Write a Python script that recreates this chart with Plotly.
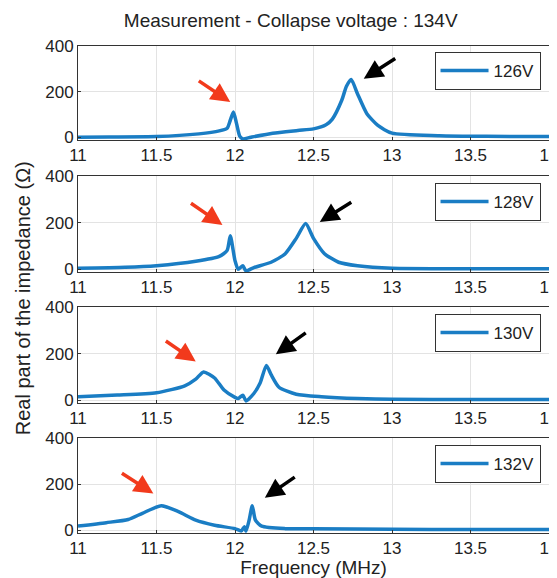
import plotly.graph_objects as go
from plotly.subplots import make_subplots

labels = ["126V", "128V", "130V", "132V"]

f1 = [11.0, 11.2, 11.5, 11.77, 11.9, 11.95, 11.97, 11.99, 12.01, 12.03, 12.05, 12.1, 12.24, 12.4, 12.5, 12.58, 12.62, 12.68, 12.71, 12.74, 12.78, 12.84, 12.91, 13.0, 13.3, 13.6, 14.0]
z1 = [0, 1, 3, 15, 28, 40, 75, 111, 60, 5, -7, 0, 18, 30, 37, 55, 80, 163, 225, 255, 192, 104, 52, 18, 7, 4, 3]

f2 = [11.0, 11.3, 11.5, 11.75, 11.9, 11.95, 11.97, 12.0, 12.02, 12.05, 12.07, 12.12, 12.23, 12.32, 12.39, 12.45, 12.5, 12.57, 12.66, 12.78, 13.0, 13.5, 14.0]
z2 = [4, 8, 15, 34, 55, 81, 144, 37, 0, 15, -7, 7, 30, 67, 133, 197, 133, 67, 30, 15, 4, 2, 2]

f3 = [11.0, 11.25, 11.5, 11.68, 11.75, 11.8, 11.87, 11.93, 12.0, 12.02, 12.05, 12.07, 12.12, 12.16, 12.2, 12.23, 12.28, 12.39, 12.55, 12.78, 13.0, 13.5, 14.0]
z3 = [15, 22, 32, 62, 91, 122, 96, 44, 12, 7, 22, -3, 29, 74, 150, 110, 56, 26, 15, 7, 4, 3, 3]

f4 = [11.0, 11.18, 11.32, 11.41, 11.53, 11.64, 11.75, 11.87, 12.0, 12.04, 12.06, 12.07, 12.09, 12.11, 12.13, 12.17, 12.32, 12.5, 13.0, 13.5, 14.0]
z4 = [18, 33, 47, 74, 107, 81, 44, 22, 7, -3, 15, -4, 44, 107, 44, 18, 7, 6, 4, 3, 3]

freqs = [f1, f2, f3, f4]
vals = [z1, z2, z3, z4]

# arrows: (head_x, head_y, tail_x, tail_y)
red_arrows = [(11.97, 155, 11.76, 253), (11.92, 191, 11.71, 289), (11.75, 167, 11.55, 260), (11.48, 160, 11.27, 253)]
black_arrows = [(12.82, 258, 13.03, 351), (12.54, 204, 12.75, 293), (12.26, 198, 12.46, 295), (12.19, 142, 12.39, 236)]

x_ticks = [11, 11.5, 12, 12.5, 13, 13.5, 14]
y_ticks = [0, 200, 400]

FONT = "Liberation Sans, Arial, sans-serif"
BLUE = "#1a7dc4"

# page body has an 8px offset; figure placed accordingly
OFF = 8
W, H = 557 - OFF, 578 - OFF
t_m = 46 - OFF
b_m = H - (533 - OFF)
ph = H - t_m - b_m
panels_px = [(46, 140), (176, 272), (307, 403), (438, 533)]
domains = [[1 - (b - 46) / ph, 1 - (t - 46) / ph] for t, b in panels_px]
legend_top_px = [52, 183, 314, 445]

fig = make_subplots(rows=4, cols=1)
for i in range(4):
    lname = "legend" if i == 0 else f"legend{i+1}"
    fig.add_trace(go.Scatter(x=freqs[i], y=vals[i], mode="lines", name=labels[i],
                             line=dict(color=BLUE, width=3.5, shape="spline", smoothing=0.6),
                             legend=lname), row=i + 1, col=1)
    yref = "y" if i == 0 else f"y{i+1}"
    xref = "x" if i == 0 else f"x{i+1}"
    for (hx, hy, tx, ty), col in [(red_arrows[i], "#f23a1c"), (black_arrows[i], "black")]:
        fig.add_annotation(x=hx, y=hy, ax=tx, ay=ty, xref=xref, yref=yref, axref=xref, ayref=yref,
                           showarrow=True, arrowhead=2, arrowsize=1.1, arrowwidth=3.5, arrowcolor=col, text="")
    ly = 1 - (legend_top_px[i] - 46) / ph
    fig.update_layout({lname: dict(x=0.982, y=ly, xanchor="right", yanchor="top",
                                   bgcolor="white", bordercolor="#333", borderwidth=1,
                                   itemwidth=48, tracegroupgap=0,
                                   font=dict(family=FONT, size=17, color="#222"))})
    fig.update_xaxes(row=i + 1, col=1, range=[11, 14], tickvals=x_ticks,
                     ticktext=[str(v) for v in x_ticks], showgrid=True, gridcolor="#e3e3e3",
                     showline=True, linecolor="#333", linewidth=1, mirror=True, ticks="inside",
                     ticklen=3, tickcolor="#333", zeroline=False, ticklabeloverflow="allow",
                     automargin=False,
                     tickfont=dict(family=FONT, size=17, color="#222"))
    fig.update_yaxes(row=i + 1, col=1, range=[-12, 402], tickvals=y_ticks,
                     showgrid=True, gridcolor="#e3e3e3", showline=True, linecolor="#333",
                     linewidth=1, mirror=True, ticks="inside", ticklen=3, tickcolor="#333",
                     zeroline=False, domain=domains[i], automargin=False,
                     tickfont=dict(family=FONT, size=17, color="#222"))

fig.update_xaxes(row=4, col=1, title=dict(text="Frequency (MHz)", standoff=2,
                                          font=dict(family=FONT, size=19, color="#222")))

fig.add_annotation(text="Real part of the impedance (Ω)", xref="paper", yref="paper",
                   x=-0.118, y=0.483, xanchor="center", yanchor="middle", textangle=-90,
                   showarrow=False, font=dict(family=FONT, size=20, color="#222"))

fig.update_layout(
    width=W, height=H,
    margin=dict(l=78 - OFF, r=W - (549 - OFF), t=t_m, b=b_m, autoexpand=False),
    paper_bgcolor="white", plot_bgcolor="white",
    title=dict(text="Measurement - Collapse voltage : 134V", x=0.515, xanchor="center",
               y=1 - (20 - OFF) / H, yanchor="middle", font=dict(family=FONT, size=19, color="#222")),
    showlegend=True,
)

fig.write_html("out.html")
